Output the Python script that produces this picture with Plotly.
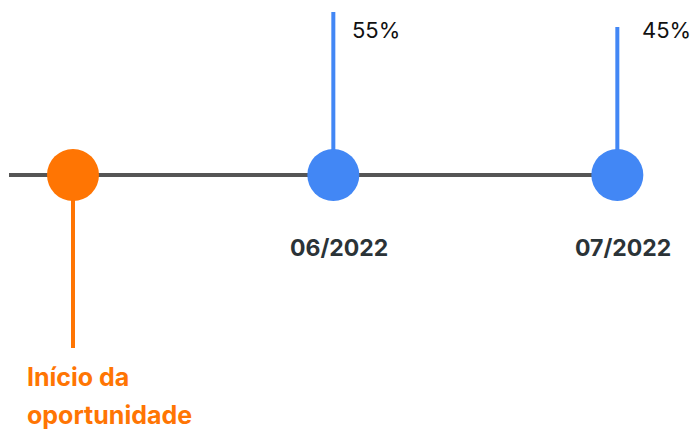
import plotly.graph_objects as go
import pandas as pd

# ---- data ----
event_labels = ["Início da oportunidade", "06/2022", "07/2022"]
event_dates = ["2022-05-04 12:00", "2022-06-01 00:00", "2022-07-01 00:00"]
percent_values = [None, 55, 45]
start_label_lines = ["Início da", "oportunidade"]

# ---- styles ----
ORANGE = "#FF7503"
BLUE = "#4287F5"
GRAY = "#555555"
DARK = "#2B3337"
FONT = "Inter"

W, H = 691, 430
dates = list(pd.to_datetime(event_dates, format="%Y-%m-%d %H:%M"))
# axis scale: pixels per day so events land on the timeline as in the reference
px_per_day = 284 / 30.0
left = dates[0] - pd.Timedelta(days=73 / px_per_day)
right = left + pd.Timedelta(days=W / px_per_day)
line_start = left + pd.Timedelta(days=9 / px_per_day)

fig = go.Figure()

# baseline
fig.add_trace(go.Scatter(x=[line_start, dates[-1]], y=[0, 0], mode="lines",
                         line=dict(color=GRAY, width=4), hoverinfo="skip"))

# stems
for i, (d, p) in enumerate(zip(dates, percent_values)):
    if p is None:
        fig.add_trace(go.Scatter(x=[d, d], y=[0, -173], mode="lines",
                                 line=dict(color=ORANGE, width=4), hoverinfo="skip"))
    else:
        top = 80.5 + 1.5 * p
        fig.add_trace(go.Scatter(x=[d, d], y=[0, top], mode="lines",
                                 line=dict(color=BLUE, width=4), hoverinfo="skip"))

# circles
colors = [ORANGE if p is None else BLUE for p in percent_values]
fig.add_trace(go.Scatter(x=dates, y=[0] * len(dates), mode="markers",
                         marker=dict(size=52, color=colors, line=dict(width=0)),
                         hoverinfo="skip"))

annotations = []
pct_shifts = [0, 17, 23]
for i, (d, p, lab) in enumerate(zip(dates, percent_values, event_labels)):
    if p is None:
        for j, t in enumerate(start_label_lines):
            annotations.append(dict(x=d, y=175 - (377 + 38 * j), text=t, showarrow=False,
                                    xanchor="left", yanchor="middle", xshift=-48,
                                    font=dict(family=FONT, size=25, color=ORANGE, weight="bold")))
    else:
        annotations.append(dict(x=d, y=175 - 30, text=f"{p}%", showarrow=False,
                                xanchor="left", yanchor="middle", xshift=pct_shifts[i],
                                font=dict(family=FONT, size=22, color="#111111")))
        annotations.append(dict(x=d, y=175 - 248, text=lab, showarrow=False,
                                xanchor="center", yanchor="middle", xshift=6,
                                font=dict(family=FONT, size=23, color=DARK, weight="bold")))

fig.update_layout(
    width=W, height=H,
    margin=dict(l=0, r=0, t=0, b=0),
    paper_bgcolor="white", plot_bgcolor="white",
    showlegend=False,
    xaxis=dict(range=[left, right], visible=False, showgrid=False, zeroline=False),
    yaxis=dict(range=[175 - H, 175], visible=False, showgrid=False, zeroline=False),
    annotations=annotations,
)

fig.write_html("out.html", config={"displayModeBar": False},
               post_script="document.body.style.margin='0';document.body.style.overflow='hidden';")
